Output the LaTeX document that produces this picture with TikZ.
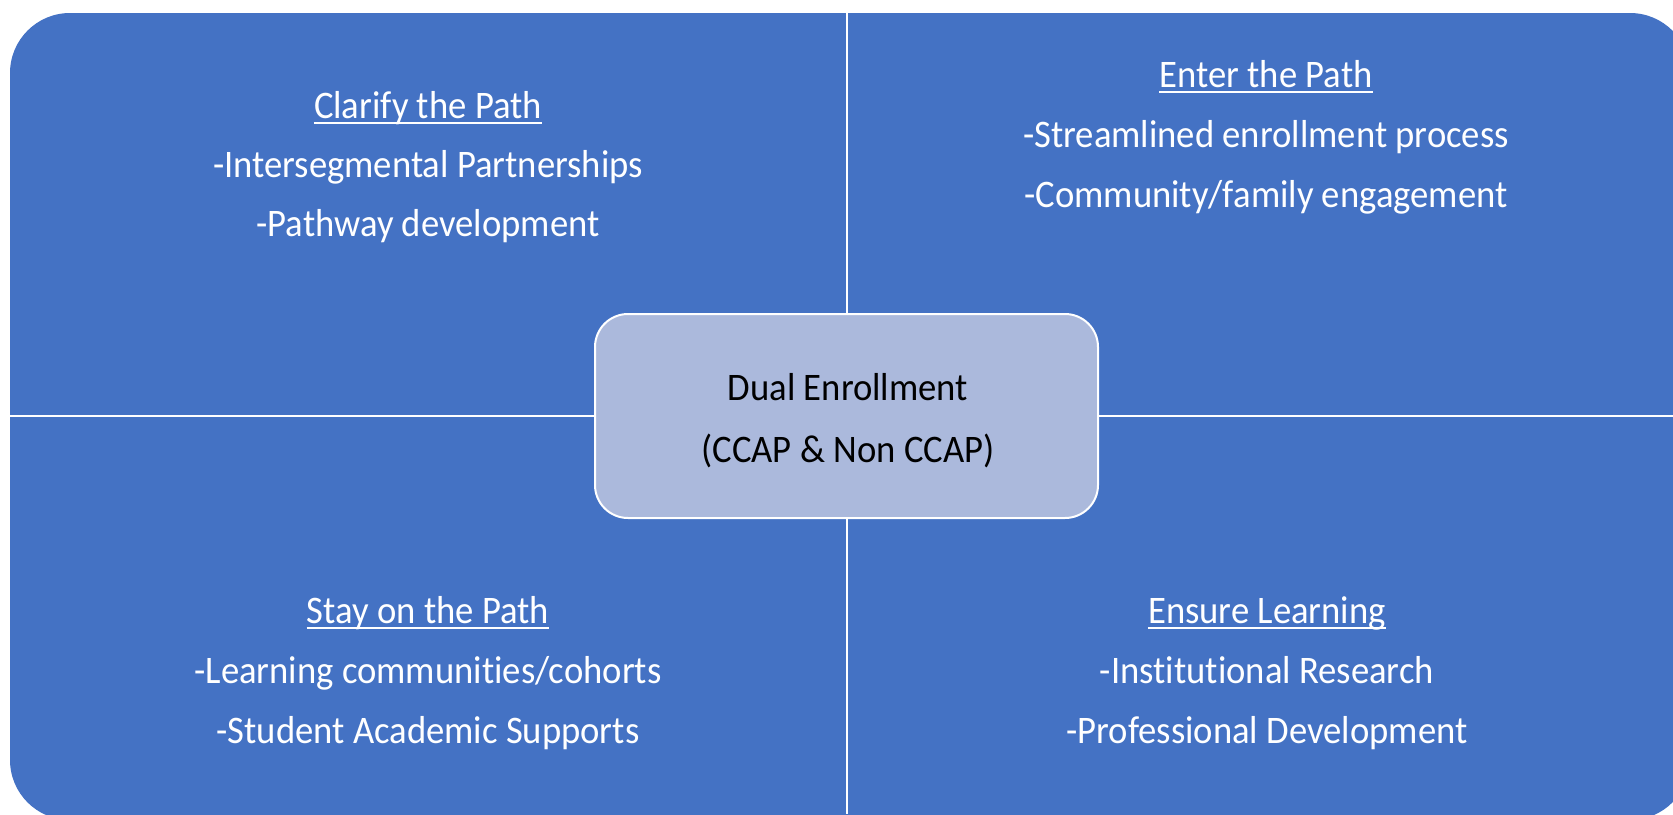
\documentclass[tikz,border=0pt]{standalone}
\usepackage{fontspec}
\setmainfont[FakeStretch=0.94, Ligatures={NoCommon}]{Carlito}
\definecolor{quadblue}{RGB}{68,114,196}
\definecolor{coreblue}{RGB}{171,185,220}
\tikzset{
  txt/.style={anchor=base, inner sep=0pt, text=white, font=\fontsize{39}{47}\selectfont},
  coretxt/.style={anchor=base, inner sep=0pt, text=black, font=\fontsize{39}{47}\selectfont},
  uline/.style={draw=white, line width=2pt},
  divider/.style={draw=white, line width=2.2pt},
  corebox/.style={draw=white, line width=2pt, fill=coreblue, rounded corners=33pt, minimum width=503pt, minimum height=204pt, inner sep=0pt}
}
\begin{document}
\begin{tikzpicture}[x=1pt, y=-1pt]
\useasboundingbox (0,0) rectangle (1673,814);
\begin{scope}
\clip (0,0) rectangle (1673,814);
\fill[quadblue, rounded corners=60pt] (10,13) rectangle (1690,820);
\coordinate (vtop) at (847,13);
\coordinate (vbot) at (847,814);
\coordinate (hleft) at (10,416);
\coordinate (hright) at (1673,416);
\draw[divider] (vtop) -- (vbot);
\draw[divider] (hleft) -- (hright);
\end{scope}
\node[corebox] (core) at (846.5,416) {};
\node[coretxt] (core1) at (848,400) {Dual Enrollment};
\node[coretxt] (core2) at (848,462) {(CCAP \& Non CCAP)};
% Clarify
\node[txt] (h1) at (428,118) {Clarify the Path};
\node[txt] (a1) at (428,177) {-Intersegmental Partnerships};
\node[txt] (a2) at (428,236) {-Pathway development};
% Enter
\node[txt] (h2) at (1266,87) {Enter the Path};
\node[txt] (b1) at (1266,147) {-Streamlined enrollment process};
\node[txt] (b2) at (1266,207) {-Community/family engagement};
% Stay
\node[txt] (h3) at (428,623) {Stay on the Path};
\node[txt] (c1) at (428,683) {-Learning communities/cohorts};
\node[txt] (c2) at (428,743) {-Student Academic Supports};
% Ensure
\node[txt] (h4) at (1267,623) {Ensure Learning};
\node[txt] (d1) at (1267,683) {-Institutional Research};
\node[txt] (d2) at (1267,743) {-Professional Development};
\foreach \h in {h1,h2,h3,h4}{
  \draw[uline] ([yshift=-5pt]\h.base west) -- ([yshift=-5pt]\h.base east);
}
\end{tikzpicture}
\end{document}
